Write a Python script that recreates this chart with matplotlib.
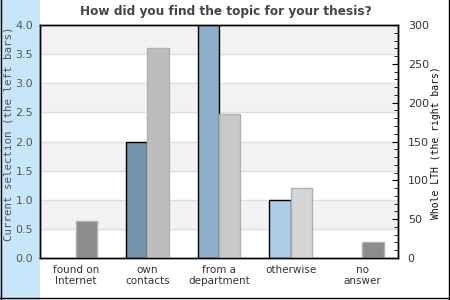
import matplotlib
matplotlib.use("Agg")
import matplotlib.pyplot as plt
from matplotlib.patches import Rectangle
from matplotlib.lines import Line2D
from matplotlib.ticker import MultipleLocator, FormatStrFormatter
import numpy as np

categories = ["found on\nInternet", "own\ncontacts", "from a\ndepartment", "otherwise", "no\nanswer"]
current_selection = [0, 2, 4, 1, 0]
whole_lth = [48, 270, 185, 90, 20]
left_colors = ["#7393ae", "#7393ae", "#8eaecb", "#accde8", "#7393ae"]
right_colors = ["#8c8c8c", "#bdbdbd", "#c8c8c8", "#d6d6d6", "#8c8c8c"]

W, H = 450, 300
fig = plt.figure(figsize=(4.5, 3.0), dpi=100)
fig.patch.set_facecolor("white")

# left blue strip
fig.patches.append(Rectangle((0, 0), 40 / W, 1, transform=fig.transFigure,
                             facecolor="#c8e6fa", edgecolor="none", zorder=-5))
# outer border
for (x0, y0, x1, y1) in [(0.5, 0, 0.5, H), (448.5, 0, 448.5, H), (0, 2.5, W, 2.5)]:
    fig.lines.append(Line2D([x0 / W, x1 / W], [y0 / H, y1 / H], transform=fig.transFigure,
                            color="black", lw=1.0, zorder=5))

ax = fig.add_axes([40 / W, 42 / H, 358 / W, 233 / H])
ax.set_xlim(-0.5, len(categories) - 0.5)
ax.set_ylim(0, 4)
ax.set_facecolor("white")

# alternating bands
for i in range(8):
    y0 = i * 0.5
    if i % 2 == 1:
        ax.axhspan(y0, y0 + 0.5, facecolor="#f2f2f2", edgecolor="none", zorder=0)
for i in range(1, 8):
    ax.axhline(i * 0.5, color="#dedede", lw=1.0, zorder=0.5)

x = np.arange(len(categories))
bw = 0.3
cur = np.array(current_selection, dtype=float)
ax.bar(x - bw / 2, cur, width=bw, color=left_colors,
       edgecolor=["black" if v > 0 else "none" for v in cur], linewidth=1.0, zorder=3)

ax2 = ax.twinx()
ax2.set_ylim(0, 300)
ax2.bar(x + bw / 2, whole_lth, width=bw, color=right_colors,
        edgecolor="#b0b0b0", linewidth=1.0, zorder=2)
ax2.patch.set_visible(False)

ax.yaxis.set_major_locator(MultipleLocator(0.5))
ax.yaxis.set_major_formatter(FormatStrFormatter("%.1f"))
ax.tick_params(axis="y", length=0, labelsize=8, labelcolor="#555555", pad=5)
ax.set_xticks(x)
ax.set_xticklabels(categories, fontsize=7.5, color="#333333", va="top", linespacing=1.1)
ax.tick_params(axis="x", length=0, pad=5)

ax2.yaxis.set_major_locator(MultipleLocator(50))
ax2.yaxis.set_minor_locator(MultipleLocator(10))
ax2.tick_params(axis="y", which="major", direction="in", length=4, labelsize=8,
                labelcolor="#333333", pad=7)
ax2.tick_params(axis="y", which="minor", direction="in", length=3)

for sp in list(ax.spines.values()) + list(ax2.spines.values()):
    sp.set_color("black")
    sp.set_linewidth(1.0)

fig.text(9 / W, (H - 134) / H, "Current selection (the left bars)", rotation=90,
         family="DejaVu Sans Mono", fontsize=7.8, color="#555555", ha="center", va="center")
fig.text(436 / W, (H - 143) / H, "Whole LTH (the right bars)", rotation=90,
         family="DejaVu Sans Mono", fontsize=7, color="#111111", ha="center", va="center")
fig.text(226 / W, 1 - 12 / H, "How did you find the topic for your thesis?",
         fontsize=8.7, fontweight="bold", color="#444444", ha="center", va="center")

fig.savefig("out.png", dpi=100)
